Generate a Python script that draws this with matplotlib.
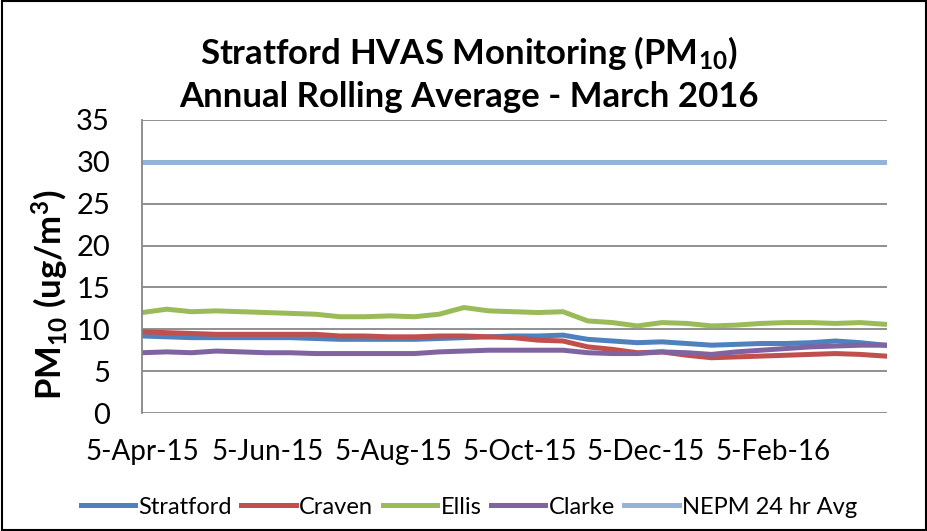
import matplotlib
matplotlib.use('Agg')
import matplotlib.pyplot as plt
from matplotlib.patches import Rectangle
import pandas as pd

plt.rcParams['font.family'] = ['Lato', 'DejaVu Sans']
plt.rcParams['mathtext.fontset'] = 'custom'
plt.rcParams['mathtext.bf'] = 'Lato:bold'
plt.rcParams['mathtext.rm'] = 'Lato'
plt.rcParams['mathtext.default'] = 'bf'

# sampling dates (every 12 days)
dates = pd.date_range('2015-04-05', periods=31, freq='12D')

stratford = [9.2, 9.1, 9.0, 9.0, 9.0, 9.0, 9.0, 8.9, 8.8, 8.8, 8.8, 8.8, 8.9, 9.0, 9.1, 9.2,
             9.2, 9.3, 8.8, 8.6, 8.4, 8.5, 8.3, 8.1, 8.2, 8.3, 8.3, 8.4, 8.6, 8.4, 8.1]
craven = [9.7, 9.6, 9.5, 9.4, 9.4, 9.4, 9.4, 9.4, 9.2, 9.2, 9.1, 9.1, 9.2, 9.2, 9.1, 9.0,
          8.7, 8.6, 7.9, 7.6, 7.2, 7.3, 6.9, 6.6, 6.7, 6.8, 6.9, 7.0, 7.1, 7.0, 6.8]
ellis = [12.0, 12.4, 12.1, 12.2, 12.1, 12.0, 11.9, 11.8, 11.5, 11.5, 11.6, 11.5, 11.8, 12.6, 12.2, 12.1,
         12.0, 12.1, 11.0, 10.8, 10.4, 10.8, 10.7, 10.4, 10.5, 10.7, 10.8, 10.8, 10.7, 10.8, 10.6]
clarke = [7.2, 7.3, 7.2, 7.4, 7.3, 7.2, 7.2, 7.1, 7.1, 7.1, 7.1, 7.1, 7.3, 7.4, 7.5, 7.5,
          7.5, 7.5, 7.2, 7.1, 7.1, 7.3, 7.2, 7.0, 7.3, 7.5, 7.7, 7.9, 8.0, 8.1, 8.1]
nepm = [30] * len(dates)

tick_dates = ['2015-04-05', '2015-06-05', '2015-08-05', '2015-10-05', '2015-12-05', '2016-02-05']
tick_labels = ['5-Apr-15', '5-Jun-15', '5-Aug-15', '5-Oct-15', '5-Dec-15', '5-Feb-16']

fig = plt.figure(figsize=(9.28, 5.31), dpi=100)
ax = fig.add_axes([142/928, 1-413/531, (887-142)/928, (413-120)/531])

lw = 3.6
ax.plot(dates, stratford, color='#4F81BD', lw=lw, label='Stratford')
ax.plot(dates, craven, color='#C0504D', lw=lw, label='Craven')
ax.plot(dates, ellis, color='#9BBB59', lw=lw, label='Ellis')
ax.plot(dates, clarke, color='#8064A2', lw=lw, label='Clarke')
ax.plot(dates, nepm, color='#95B3D7', lw=lw, label='NEPM 24 hr Avg')

ax.set_ylim(0, 35)
ax.set_yticks(range(0, 36, 5))
ax.set_xlim(pd.Timestamp('2015-04-05'), pd.Timestamp('2016-03-31'))
ax.set_xticks(pd.to_datetime(tick_dates))
ax.set_xticklabels(tick_labels)
ax.grid(axis='y', color='#878787', lw=1.3)
ax.set_axisbelow(True)
for s in ['top', 'right', 'bottom']:
    ax.spines[s].set_visible(False)
ax.spines['left'].set_color('#878787')
ax.spines['left'].set_linewidth(1.3)
ax.tick_params(axis='both', length=0, labelsize=20)
ax.tick_params(axis='y', labelsize=21, pad=23)
ax.tick_params(axis='x', pad=19)

fig.text(0.505, 1-53/531, r'Stratford HVAS Monitoring (PM$_{10}$)', ha='center', va='center',
         fontsize=25, fontweight='bold')
fig.text(0.505, 1-97/531, 'Annual Rolling Average - March 2016', ha='center', va='center',
         fontsize=25, fontweight='bold')
fig.text(50/928, 1-295/531, r'PM$_{10}$ (ug/m$^3$)', rotation=90, ha='center', va='center',
         fontsize=25, fontweight='bold')

fig.legend(loc='center', bbox_to_anchor=(469/928, 1-507/531), ncol=5, frameon=False,
           fontsize=17, handlelength=2.3, handletextpad=0.15, columnspacing=0.4)

fig.add_artist(Rectangle((0.002, 0.002), 0.996, 0.996, transform=fig.transFigure,
                         fill=False, ec='black', lw=1.5))

fig.savefig('out.png', dpi=100)
